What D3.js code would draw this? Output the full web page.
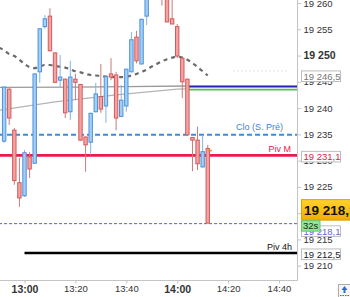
<!DOCTYPE html>
<html>
<head>
<meta charset="utf-8">
<script src="https://cdn.jsdelivr.net/npm/d3@7"></script>
<style>
  body { margin: 0; background: #fff; }
  svg { display: block; font-family: "Liberation Sans", Arial, sans-serif; }
</style>
</head>
<body>
<div id="chart"></div>
<script>
// bougies 2 minutes
const heures = ["12:52","12:54","12:56","12:58","13:00","13:02","13:04","13:06","13:08","13:10",
  "13:12","13:14","13:16","13:18","13:20","13:22","13:24","13:26","13:28","13:30",
  "13:32","13:34","13:36","13:38","13:40","13:42","13:44","13:46","13:48","13:50",
  "13:52","13:54","13:56","13:58","14:00","14:02","14:04","14:06","14:08","14:10","14:12"];
const ouv = [19233.7,19243.6,19235.8,19225.8,19223.3,19230.7,19229.5,19246.9,19255.5,19257.5,
  19250.5,19245.3,19245.5,19239.3,19245.5,19244.5,19234.5,19233.5,19239.3,19242.2,
  19240.4,19246.5,19246.3,19238.4,19240.4,19246.9,19253.5,19248.4,19257.5,19262.0,
  19265.0,19263.5,19262.5,19257.0,19255.5,19249.5,19245.5,19234.4,19233.9,19228.8,19232.3];
const haut = [19244.0,19243.8,19236.2,19230.5,19232.0,19231.6,19246.6,19255.1,19257.7,19259.0,
  19250.6,19250.1,19245.6,19249.0,19246.5,19244.6,19234.6,19239.1,19244.8,19248.4,
  19246.1,19249.5,19246.9,19244.4,19247.5,19254.5,19254.7,19257.0,19264.0,19266.0,
  19266.5,19264.0,19263.0,19261.5,19256.0,19249.6,19245.6,19234.5,19236.5,19234.9,19233.0];
const bas = [19233.4,19236.8,19225.4,19221.2,19223.1,19226.7,19229.4,19244.8,19255.1,19250.8,
  19244.8,19244.0,19238.1,19237.7,19241.5,19233.8,19227.9,19231.1,19239.2,19239.1,
  19237.2,19245.3,19235.8,19238.3,19239.3,19246.8,19248.5,19248.3,19255.8,19261.0,
  19261.5,19259.5,19256.4,19256.0,19249.5,19241.9,19234.9,19228.0,19228.2,19228.7,19218.1];
const clot = [19244.0,19238.1,19226.2,19222.9,19231.5,19228.4,19246.5,19255.1,19257.0,19250.9,
  19244.9,19245.9,19239.1,19245.9,19244.9,19233.9,19233.0,19239.0,19242.7,19239.8,
  19246.0,19245.9,19238.1,19241.5,19247.4,19253.0,19249.0,19256.9,19262.5,19265.0,
  19262.0,19261.0,19256.4,19256.0,19249.9,19245.0,19234.9,19233.9,19229.4,19231.7,19218.1];

// moyenne mobile (pointillés gris foncé)
const mmHeures = ["12:50", ...heures];
const mmValeurs = [19251.5,19251.0,19250.3,19249.9,19249.2,19248.4,19247.8,19247.6,19247.9,19248.2,
  19248.2,19248.0,19247.9,19247.7,19247.4,19247.0,19246.8,19246.5,19246.3,19246.2,
  19246.1,19246.0,19245.9,19245.9,19245.9,19246.0,19246.2,19246.5,19246.9,19247.3,
  19247.9,19248.4,19248.9,19249.3,19249.6,19249.8,19249.6,19249.2,19248.6,19247.8,19247.0,19246.2];

// lignes grises lentes
const gris1Heures = ["12:50","13:20","13:40","14:04"];
const gris1Valeurs = [19243.95,19244.0,19244.1,19244.2];
const gris2Heures = ["12:50","13:12","13:36","14:00","14:04"];
const gris2Valeurs = [19239.6,19241.2,19242.5,19243.6,19243.65];

// niveaux horizontaux
const niveauxNoms = ["Clo (S. Pré)","Piv M","Piv 4h","dernier","bleu","vert"];
const niveauxValeurs = [19235.0,19231.1,19212.5,19218.1,19244.2,19243.6];
const niveauxDebut = ["12:50","12:50","13:00","12:50","14:04","14:04"];
const niveauRepere = 19246.5;

const ticksY = [19210,19215,19220,19225,19230,19235,19240,19245,19250,19255,19260];
const ticksX = ["13:00","13:20","13:40","14:00","14:20","14:40"];

const W = 350, H = 297;
const axeX = 297.5, axeY = 280.5;
const parse = d3.timeParse("%H:%M");
const fmt = d3.timeFormat("%H:%M");
const espace = d3.format(",.0f");
const nombre = v => espace(v).replace(/,/g, " ");
const nombre1 = v => d3.format(",.1f")(v).replace(/,/g, " ").replace(".", ",");

const x = d3.scaleTime().domain([parse("13:00"), parse("14:40")]).range([24.5, 279]);
const y = d3.scaleLinear().domain([19210, 19260]).range([265.7, 3.0]);

const bougies = heures.map((h, i) => ({ t: parse(h), o: ouv[i], h: haut[i], l: bas[i], c: clot[i] }));

const svg = d3.select("#chart").append("svg").attr("width", W).attr("height", H);
svg.append("rect").attr("width", W).attr("height", H).attr("fill", "#fff");

svg.append("clipPath").attr("id", "zone").append("rect")
  .attr("x", 0).attr("y", 0).attr("width", axeX).attr("height", axeY);
const g = svg.append("g").attr("clip-path", "url(#zone)");

const ligne = d3.line().x(d => x(d[0])).y(d => y(d[1]));

// lignes grises
g.append("path").datum(gris2Heures.map((h, i) => [parse(h), gris2Valeurs[i]]))
  .attr("d", ligne).attr("fill", "none").attr("stroke", "#b4b4b4").attr("stroke-width", 1.3);
g.append("path").datum(gris1Heures.map((h, i) => [parse(h), gris1Valeurs[i]]))
  .attr("d", ligne).attr("fill", "none").attr("stroke", "#9a9a9a").attr("stroke-width", 1.3);

// repère pointillé clair
g.append("line").attr("x1", x(parse("14:22"))).attr("x2", x(parse("14:43")))
  .attr("y1", y(niveauRepere) - 3).attr("y2", y(niveauRepere) - 3)
  .attr("stroke", "#dcdcdc").attr("stroke-dasharray", "2,2");

// niveaux
const styles = {
  "Clo (S. Pré)": { c: "#3d8ad6", w: 2, d: "5,3" },
  "Piv M": { c: "#ea1a4c", w: 2.6, d: null },
  "Piv 4h": { c: "#000", w: 2.4, d: null },
  "dernier": { c: "#5b5bd6", w: 1, d: "3,2" },
  "bleu": { c: "#2323b0", w: 2, d: null },
  "vert": { c: "#5cb85c", w: 1.6, d: null }
};
niveauxNoms.forEach((n, i) => {
  const s = styles[n];
  const l = g.append("line")
    .attr("x1", x(parse(niveauxDebut[i]))).attr("x2", axeX)
    .attr("y1", y(niveauxValeurs[i]) + 0.5).attr("y2", y(niveauxValeurs[i]) + 0.5)
    .attr("stroke", s.c).attr("stroke-width", s.w);
  if (s.d) l.attr("stroke-dasharray", s.d);
});

// moyenne mobile
g.append("path").datum(mmHeures.map((h, i) => [parse(h), mmValeurs[i]]))
  .attr("d", ligne.curve(d3.curveMonotoneX)).attr("fill", "none")
  .attr("stroke", "#6a6a6a").attr("stroke-width", 2.2).attr("stroke-dasharray", "4,4");

// bougies
const larg = 3.4;
const cb = g.append("g").selectAll("g").data(bougies).join("g");
cb.append("line")
  .attr("x1", d => x(d.t)).attr("x2", d => x(d.t))
  .attr("y1", d => y(d.h)).attr("y2", d => y(d.l))
  .attr("stroke", d => d.c >= d.o ? "#7fb3e6" : "#c77b7b").attr("stroke-width", 1);
cb.append("rect")
  .attr("x", d => x(d.t) - larg / 2)
  .attr("y", d => y(Math.max(d.o, d.c)))
  .attr("width", larg)
  .attr("height", d => Math.max(1, Math.abs(y(d.o) - y(d.c))))
  .attr("fill", d => d.c >= d.o ? "#a4cef3" : "#f3a3a3")
  .attr("stroke", d => d.c >= d.o ? "#4b93dc" : "#d45a5a").attr("stroke-width", 1);

// petit repère orange sur la dernière bougie
const der = bougies[bougies.length - 1];
g.append("line").attr("x1", x(der.t)).attr("x2", x(der.t) + 4)
  .attr("y1", y(der.o) + 2).attr("y2", y(der.o) + 2)
  .attr("stroke", "#f08a24").attr("stroke-width", 1.8);

// textes des niveaux
const etiquettes = [
  { n: "Clo (S. Pré)", c: "#3d85d0", dx: 283, dy: -4 },
  { n: "Piv M", c: "#ea1a4c", dx: 291, dy: -3 },
  { n: "Piv 4h", c: "#111", dx: 292, dy: -3 }
];
etiquettes.forEach(e => {
  const v = niveauxValeurs[niveauxNoms.indexOf(e.n)];
  svg.append("text").attr("x", e.dx).attr("y", y(v) + e.dy)
    .attr("text-anchor", "end").attr("font-size", 9).attr("fill", e.c).text(e.n);
});

// axes
svg.append("line").attr("x1", axeX).attr("x2", axeX).attr("y1", 0).attr("y2", axeY)
  .attr("stroke", "#c4c4c4");
svg.append("line").attr("x1", 0).attr("x2", axeX).attr("y1", axeY).attr("y2", axeY)
  .attr("stroke", "#c4c4c4");

const axeBas = svg.append("g").attr("transform", `translate(0,${axeY})`)
  .call(d3.axisBottom(x).tickValues(ticksX.map(parse)).tickSize(3).tickPadding(2).tickFormat(fmt));
axeBas.select(".domain").remove();
axeBas.selectAll("line").attr("stroke", "#c4c4c4");
axeBas.selectAll("text").attr("font-size", 9.5).attr("fill", "#333")
  .attr("font-family", "Liberation Sans, Arial, sans-serif")
  .attr("font-weight", d => d.getMinutes() === 0 ? "bold" : "normal")
  .attr("font-size", d => d.getMinutes() === 0 ? 10.5 : 9.5);

const axeDroit = svg.append("g").attr("transform", `translate(${axeX},0)`)
  .call(d3.axisRight(y).tickValues(ticksY).tickSize(3.5).tickPadding(2.5).tickFormat(nombre));
axeDroit.select(".domain").remove();
axeDroit.selectAll("line").attr("stroke", "#c4c4c4");
axeDroit.selectAll("text").attr("fill", "#333")
  .attr("font-family", "Liberation Sans, Arial, sans-serif")
  .attr("font-weight", d => d === 19250 ? "bold" : "normal")
  .attr("font-size", d => d === 19250 ? 10.5 : 9.5);

// étiquettes de prix à droite
function boite(v, decal, couleur) {
  const yc = y(v) + decal;
  svg.append("rect").attr("x", 301.5).attr("y", yc - 5.3).attr("width", 39).attr("height", 10.6)
    .attr("fill", "#fff").attr("stroke", "#bdbdbd");
  svg.append("text").attr("x", 303.5).attr("y", yc + 3.4).attr("font-size", 9.5)
    .attr("fill", couleur).text(nombre1(v));
}
boite(niveauRepere, 2.3, "#777");
boite(niveauxValeurs[1], 1.8, "#e0184a");
boite(niveauxValeurs[2], 1.7, "#222");
boite(niveauxValeurs[3], 8, "#6565d8");

// prix courant
const grad = svg.append("defs").append("linearGradient").attr("id", "jaune")
  .attr("x1", 0).attr("x2", 0).attr("y1", 0).attr("y2", 1);
grad.append("stop").attr("offset", 0).attr("stop-color", "#ffd22e");
grad.append("stop").attr("offset", 1).attr("stop-color", "#f2ad00");
const yPrix = y(der.c) - 13.5;
svg.append("rect").attr("x", 301.5).attr("y", yPrix - 10).attr("width", 52).attr("height", 20.5)
  .attr("fill", "url(#jaune)").attr("stroke", "#e0a000");
svg.append("text").attr("x", 304).attr("y", yPrix + 5).attr("font-size", 13.5)
  .attr("font-weight", "bold").attr("fill", "#111").text(nombre1(der.c));

// compte à rebours
svg.append("rect").attr("x", 301.5).attr("y", yPrix + 11).attr("width", 18.5).attr("height", 10.5)
  .attr("fill", "#93e593").attr("stroke", "#6cc46c");
svg.append("text").attr("x", 303).attr("y", yPrix + 19.5).attr("font-size", 9.5)
  .attr("fill", "#222").text("32s");

// petit bouton en bas à droite
svg.append("rect").attr("x", 338.5).attr("y", 284.5).attr("width", 13).attr("height", 13)
  .attr("fill", "#f6f6f6").attr("stroke", "#aaa");
svg.append("path").attr("d", "M344.5,286 L341.5,290 L343.5,290 L343.5,293 L345.5,293 L345.5,290 L347.5,290 Z")
  .attr("fill", "#2a6fd0");
svg.append("line").attr("x1", 340).attr("x2", 350).attr("y1", 295.5).attr("y2", 295.5)
  .attr("stroke", "#2a6fd0").attr("stroke-dasharray", "1.5,1");
</script>
</body>
</html>
